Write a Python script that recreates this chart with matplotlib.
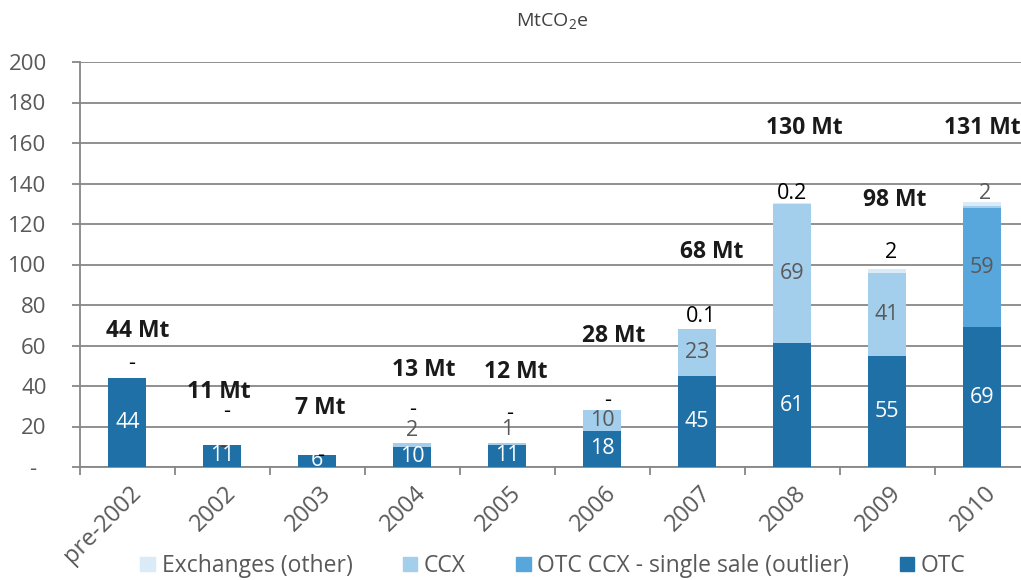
import matplotlib
matplotlib.use('Agg')
import matplotlib.pyplot as plt
from matplotlib.patches import Rectangle
from matplotlib.transforms import ScaledTranslation
import numpy as np

# ---------------- data ----------------
categories = ['pre-2002', '2002', '2003', '2004', '2005', '2006', '2007', '2008', '2009', '2010']
otc = [44, 11, 6, 10, 11, 18, 45, 61, 55, 69]
otc_ccx_single = [0, 0, 0, 0, 0, 0, 0, 0, 0, 59]
ccx = [0, 0, 0, 2, 1, 10, 23, 69, 41, 1]
exchanges_other = [0, 0, 0, 0, 0, 0, 0.1, 0.2, 2, 2]
totals = [44, 11, 7, 13, 12, 28, 68, 130, 98, 131]
exchanges_labels = ['-', '-', '-', '-', '-', '-', '0.1', '0.2', '2', '2']
ccx_labels = ['', '-', '', '2', '1', '10', '23', '69', '41', '']
yticks = [0, 20, 40, 60, 80, 100, 120, 140, 160, 180, 200]
ytick_labels = ['-', '20', '40', '60', '80', '100', '120', '140', '160', '180', '200']

# ---------------- label layout (as placed in the original) ----------------
total_label_y = [67.3, 37.2, 29, 47.9, 46.8, 64.7, 106.3, 167.3, 131.9, 167.3]
total_label_dx = [10, -4, 3, 11, 8, 11, 15, 12, 8, 0]  # pixels
exch_label_y = [51.3, 27.3, 5.5, 28.6, 26.2, 33, 74.2, 135, 105.8, 135]
exch_label_dx = [4, 4, 3, 0, 2, 5, 4, 0, 4, 3]
ccx_label_y_override = {1: 10.3, 3: 17.9, 4: 18.3}

# ---------------- style ----------------
C_OTC = '#2070A8'
C_SINGLE = '#57A6DC'
C_CCX = '#A3CEEC'
C_EXCH = '#DAEAF6'
GRID = '#878787'
TXT = '#595959'

plt.rcParams['font.family'] = ['Open Sans', 'DejaVu Sans']
plt.rcParams['mathtext.fontset'] = 'custom'
plt.rcParams['mathtext.rm'] = 'Open Sans'

W, H = 1021, 580
fig = plt.figure(figsize=(W / 100, H / 100), dpi=100)
ax = fig.add_axes([80 / W, (H - 467) / H, 949.5 / W, 405 / H])

x = np.arange(len(categories))
bw = 0.4
b0 = np.zeros(len(x))
ax.bar(x, otc, bw, bottom=b0, color=C_OTC, zorder=3)
b1 = b0 + np.array(otc)
ax.bar(x, otc_ccx_single, bw, bottom=b1, color=C_SINGLE, zorder=3)
b2 = b1 + np.array(otc_ccx_single)
ax.bar(x, ccx, bw, bottom=b2, color=C_CCX, zorder=3)
b3 = b2 + np.array(ccx)
ax.bar(x, exchanges_other, bw, bottom=b3, color=C_EXCH, zorder=3)

fs = 15.5
px = 1 / 94.95  # one pixel in category units

# OTC labels (white, centred)
for i, v in enumerate(otc):
    ax.text(x[i], v / 2, f'{v}', ha='center', va='center', color='white', fontsize=fs, zorder=5)
# single sale
for i, v in enumerate(otc_ccx_single):
    if v:
        ax.text(x[i], b1[i] + v / 2, f'{v}', ha='center', va='center', color=TXT, fontsize=fs, zorder=5)
# CCX labels
for i, lab in enumerate(ccx_labels):
    if not lab:
        continue
    y = ccx_label_y_override.get(i, b2[i] + ccx[i] / 2)
    ax.text(x[i], y, lab, ha='center', va='center', color=TXT if lab != '-' else '#404040', fontsize=fs, zorder=5)
# Exchanges labels
for i, lab in enumerate(exchanges_labels):
    col = TXT if i == 9 else 'black'
    ax.text(x[i] + exch_label_dx[i] * px, exch_label_y[i], lab, ha='center', va='center',
            color=col, fontsize=fs, zorder=5)
# totals
for i, t in enumerate(totals):
    ax.text(x[i] + total_label_dx[i] * px, total_label_y[i], f'{t} Mt', ha='center', va='center',
            color='#1a1a1a', fontsize=16.5, fontweight='bold', zorder=5)

# axes styling
ax.set_xlim(-0.5, len(x) - 0.5)
ax.set_ylim(0, 200)
ax.set_yticks(yticks)
ax.set_yticklabels(ytick_labels)
ax.yaxis.grid(True, color=GRID, linewidth=1.3, zorder=0)
ax.set_axisbelow(True)
for s in ['top', 'right']:
    ax.spines[s].set_visible(False)
for s in ['left', 'bottom']:
    ax.spines[s].set_color(GRID)
    ax.spines[s].set_linewidth(1.3)
ax.tick_params(axis='y', direction='out', length=6, width=1.3, color=GRID, labelsize=16,
               labelcolor=TXT, pad=18)
zero_lab = ax.get_yticklabels()[0]
zero_lab.set_transform(zero_lab.get_transform() + ScaledTranslation(-10 / 100, 0, fig.dpi_scale_trans))

ax.set_xticks(x)
ax.set_xticklabels(categories, rotation=45, ha='right', va='top')
ax.set_xticks(np.arange(len(x) + 1) - 0.5, minor=True)
ax.tick_params(axis='x', which='major', length=0, labelsize=17, labelcolor=TXT, pad=10)
ax.tick_params(axis='x', which='minor', direction='out', length=6, width=1.3, color=GRID)
off = ScaledTranslation(19 / 100, 0, fig.dpi_scale_trans)
for lab in ax.get_xticklabels():
    lab.set_transform(lab.get_transform() + off)

# unit label
fig.text(552 / W, 1 - 22 / H, r'MtCO$_\mathregular{2}$e', ha='center', va='center',
         fontsize=14, color='#404040')

# legend
handles = [Rectangle((0, 0), 1, 1, color=C_EXCH), Rectangle((0, 0), 1, 1, color=C_CCX),
           Rectangle((0, 0), 1, 1, color=C_SINGLE), Rectangle((0, 0), 1, 1, color=C_OTC)]
names = ['Exchanges (other)', 'CCX', 'OTC CCX - single sale (outlier)', 'OTC']
leg = fig.legend(handles, names, loc='center', bbox_to_anchor=(553 / W, 14 / H), ncol=4,
                 frameon=False, fontsize=16.5, handlelength=0.62, handleheight=0.62,
                 handletextpad=0.3, columnspacing=2.2, borderaxespad=0, borderpad=0)
for t in leg.get_texts():
    t.set_color(TXT)

fig.savefig('out.png', dpi=100)
